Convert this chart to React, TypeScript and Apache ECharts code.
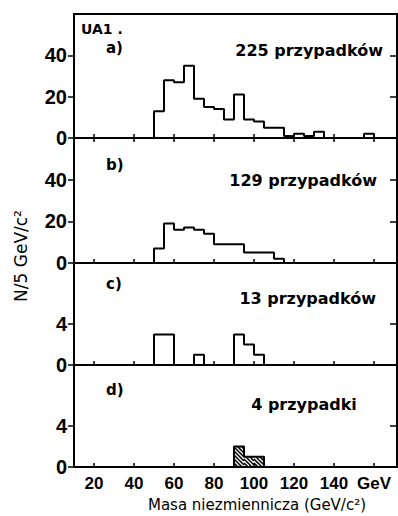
import { useEffect, useRef } from 'react';
import * as echarts from 'echarts';

// ---- data ----
const BIN = 5; // GeV per bin
const xTickValues = [20, 40, 60, 80, 100, 120, 140, 160];
const xTickLabels = ['20', '40', '60', '80', '100', '120', '140', 'GeV'];

const binStartA = 50;
const countsA = [13, 28, 27, 35, 19, 15, 14, 9, 21, 9, 8, 5, 5, 1, 2, 1, 3, 0, 0, 0, 0, 2];
const binStartB = 50;
const countsB = [7, 19, 16, 17, 16, 14, 9, 9, 9, 5, 5, 5, 2];
const binStartC = 50;
const countsC = [3, 3, 0, 0, 1, 0, 0, 0, 3, 2, 1];
const binStartD = 90;
const countsD = [2, 1, 1];

const panelLabels = ['a)', 'b)', 'c)', 'd)'];
const panelTitles = ['225 przypadków', '129 przypadków', '13 przypadków', '4 przypadki'];
const yMaxBig = 60;
const yMaxSmall = 10;
const leftTicksBig = [0, 20, 40];
const rightTicksBig = [20, 40];
const leftTicksSmall = [0, 4];
const rightTicksSmall = [4];
const experiment = 'UA1 .';
const xTitle = 'Masa niezmiennicza (GeV/c²)';
const yTitle = 'N/5 GeV/c²';

// ---- layout ----
const X_MIN = 10;
const X_MAX = 171.5;
const GRID_LEFT = 74;
const GRID_WIDTH = 323;
const panels = [
  { top: 14, height: 124, max: yMaxBig, left: leftTicksBig, right: rightTicksBig, start: binStartA, counts: countsA },
  { top: 138, height: 125, max: yMaxBig, left: leftTicksBig, right: rightTicksBig, start: binStartB, counts: countsB },
  { top: 263, height: 102, max: yMaxSmall, left: leftTicksSmall, right: rightTicksSmall, start: binStartC, counts: countsC },
  { top: 365, height: 102, max: yMaxSmall, left: leftTicksSmall, right: rightTicksSmall, start: binStartD, counts: countsD },
];

const TICK_FONT = '"Liberation Sans", sans-serif';
const TEXT_FONT = '"DejaVu Sans", sans-serif';

function stepData(start: number, counts: number[]) {
  const pts: number[][] = [[start, 0]];
  counts.forEach((c, i) => pts.push([start + i * BIN, c]));
  pts.push([start + counts.length * BIN, 0]);
  return pts;
}

function buildOption() {
  const grid = panels.map((p) => ({
    left: GRID_LEFT,
    width: GRID_WIDTH,
    top: p.top,
    height: p.height,
    show: true,
    borderColor: '#000',
    borderWidth: 2,
    backgroundColor: 'transparent',
    outerBoundsMode: 'none',
  }));

  const xAxis: any[] = panels.map((p, i) => ({
    type: 'value',
    gridIndex: i,
    min: X_MIN,
    max: X_MAX,
    position: 'bottom',
    axisLine: { show: false },
    splitLine: { show: false },
    axisTick: {
      show: true,
      inside: true,
      length: 4,
      customValues: xTickValues,
      lineStyle: { color: '#000', width: 1.5 },
    },
    axisLabel: i === 3
      ? {
          show: true,
          customValues: xTickValues,
          formatter: (v: number) => xTickLabels[xTickValues.indexOf(v)] ?? '',
          color: '#000',
          fontFamily: TICK_FONT,
          fontWeight: 'bold',
          fontSize: 17,
          margin: 8,
        }
      : { show: false },
    ...(i === 3
      ? {
          name: xTitle,
          nameLocation: 'middle',
          nameGap: 30,
          nameTextStyle: {
            color: '#000',
            fontFamily: TEXT_FONT,
            fontSize: 15,
            padding: [0, 0, 0, 43],
          },
        }
      : {}),
  }));
  xAxis.push({
    type: 'value',
    gridIndex: 0,
    min: X_MIN,
    max: X_MAX,
    position: 'top',
    axisLine: { show: false },
    splitLine: { show: false },
    axisTick: {
      show: true,
      inside: true,
      length: 4,
      customValues: xTickValues,
      lineStyle: { color: '#000', width: 1.5 },
    },
    axisLabel: { show: false },
  });

  const yAxis: any[] = [];
  panels.forEach((p, i) => {
    yAxis.push({
      type: 'value',
      gridIndex: i,
      min: 0,
      max: p.max,
      position: 'left',
      axisLine: { show: false },
      splitLine: { show: false },
      axisTick: {
        show: true,
        inside: false,
        length: 6,
        customValues: p.left,
        lineStyle: { color: '#000', width: 1.5 },
      },
      axisLabel: {
        show: true,
        customValues: p.left,
        color: '#000',
        fontFamily: TICK_FONT,
        fontWeight: 'bold',
        fontSize: 20,
        margin: 7,
      },
    });
  });
  panels.forEach((p, i) => {
    yAxis.push({
      type: 'value',
      gridIndex: i,
      min: 0,
      max: p.max,
      position: 'right',
      axisLine: { show: false },
      splitLine: { show: false },
      axisTick: {
        show: true,
        inside: true,
        length: 7,
        customValues: p.right,
        lineStyle: { color: '#000', width: 1.5 },
      },
      axisLabel: { show: false },
    });
  });

  const series: any[] = panels.map((p, i) => ({
    type: 'line',
    xAxisIndex: i,
    yAxisIndex: i,
    step: 'end',
    symbol: 'none',
    showSymbol: false,
    silent: true,
    lineStyle: { color: '#000', width: 2 },
    data: stepData(p.start, p.counts),
  }));

  // hatching for panel d
  series.push({
    type: 'custom',
    xAxisIndex: 3,
    yAxisIndex: 3,
    silent: true,
    data: countsD.map((c, i) => [binStartD + i * BIN, c]),
    renderItem: (_params: any, api: any) => {
      const x0 = api.value(0) as number;
      const v = api.value(1) as number;
      const tl = api.coord([x0, v]);
      const br = api.coord([x0 + BIN, 0]);
      const left = tl[0], top = tl[1], right = br[0], bottom = br[1];
      const children: any[] = [];
      const gap = 4;
      for (let c = left - bottom; c <= right - top; c += gap) {
        const xa = Math.max(left, top + c);
        const xb = Math.min(right, bottom + c);
        if (xb > xa) {
          children.push({
            type: 'line',
            shape: { x1: xa, y1: xa - c, x2: xb, y2: xb - c },
            style: { stroke: '#000', lineWidth: 1.6 },
          });
        }
      }
      return { type: 'group', children };
    },
  });

  const labelY = [48, 165, 284, 390];
  const titleY = [50, 180, 298, 404];
  const titleX = [383, 377, 376, 304];
  const titleAlign = ['right', 'right', 'right', 'center'];

  const graphic: any[] = [
    {
      type: 'text',
      x: 81,
      y: 29,
      style: {
        text: experiment,
        fill: '#000',
        fontFamily: TEXT_FONT,
        fontWeight: 'bold',
        fontSize: 14,
        align: 'left',
        verticalAlign: 'middle',
      },
    },
    {
      type: 'text',
      x: 21,
      y: 256,
      rotation: Math.PI / 2,
      style: {
        text: yTitle,
        fill: '#000',
        fontFamily: TEXT_FONT,
        fontSize: 17,
        align: 'center',
        verticalAlign: 'middle',
      },
    },
  ];
  panelLabels.forEach((t, i) => {
    graphic.push({
      type: 'text',
      x: 106,
      y: labelY[i],
      style: {
        text: t,
        fill: '#000',
        fontFamily: TEXT_FONT,
        fontWeight: 'bold',
        fontSize: 15,
        align: 'left',
        verticalAlign: 'middle',
      },
    });
    graphic.push({
      type: 'text',
      x: titleX[i],
      y: titleY[i],
      style: {
        text: panelTitles[i],
        fill: '#000',
        fontFamily: TEXT_FONT,
        fontWeight: 'bold',
        fontSize: 16,
        align: titleAlign[i],
        verticalAlign: 'middle',
      },
    });
  });

  return {
    animation: false,
    backgroundColor: '#fff',
    grid,
    xAxis,
    yAxis,
    series,
    graphic,
  };
}

export default function App() {
  const ref = useRef<HTMLDivElement>(null);
  useEffect(() => {
    if (!ref.current) return;
    const chart = echarts.init(ref.current, undefined, { renderer: 'svg' });
    chart.setOption(buildOption() as any);
    return () => chart.dispose();
  }, []);
  return (
    <div
      ref={ref}
      style={{ position: 'fixed', left: 0, top: 0, width: 398, height: 516 }}
    />
  );
}
